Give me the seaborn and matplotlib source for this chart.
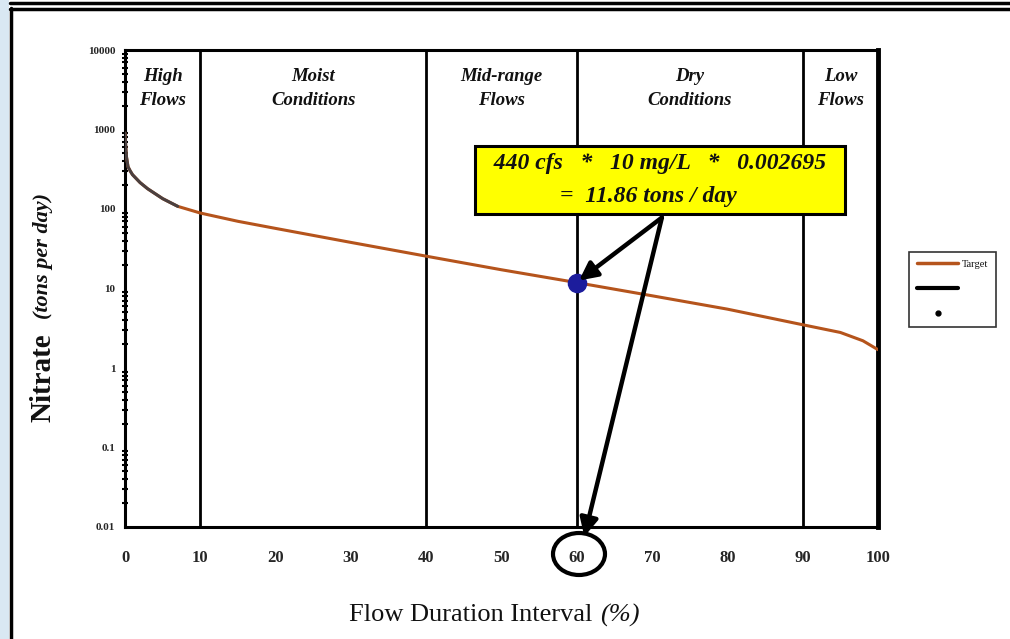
import numpy as np
import pandas as pd
import matplotlib
matplotlib.use("Agg")
import matplotlib.pyplot as plt
from matplotlib.lines import Line2D
from matplotlib.patches import Rectangle, Ellipse
import seaborn as sns

# Load duration curve: flow duration interval (%) vs nitrate target load (tons/day)
flow_pct = [0, 0.1, 0.2, 0.4, 0.7, 1, 2, 3, 5, 7, 10, 15, 20, 30, 40, 50, 60, 70, 80, 90, 95, 98, 100]
target_load = [900, 600, 450, 340, 300, 270, 215, 180, 135, 108, 89, 70, 57, 38, 25.5, 17.2, 11.86, 8.1, 5.5, 3.5, 2.8, 2.2, 1.7]

# Highest-flow portion drawn as the dark overlay series
obs_pct = [0, 0.1, 0.2, 0.4, 0.7, 1, 2, 3, 5, 7]
obs_load = [900, 600, 450, 340, 300, 270, 215, 180, 135, 108]

# Worked example point
example_pct = [60]
example_load = [11.86]

zone_bounds = [10, 40, 60, 90]
zone_names = ["High\nFlows", "Moist\nConditions", "Mid-range\nFlows", "Dry\nConditions", "Low\nFlows"]
zone_centers = [5, 25, 50, 75, 95]

x_ticks = [0, 10, 20, 30, 40, 50, 60, 70, 80, 90, 100]
y_ticks = [0.01, 0.1, 1, 10, 100, 1000, 10000]
y_tick_labels = ["0.01", "0.1", "1", "10", "100", "1000", "10000"]

sns.set_theme(style="white")
serif = ["Liberation Serif", "DejaVu Serif"]
plt.rcParams["font.family"] = serif
plt.rcParams["text.color"] = "#111111"

fig = plt.figure(figsize=(10.1, 6.39), dpi=100)
ax = fig.add_axes([125 / 1010, 1 - 527 / 639, 753 / 1010, 477 / 639])

# slide frame decoration
fig.patches.append(Rectangle((0, 0), 9 / 1010, 1, transform=fig.transFigure,
                             facecolor="#d9e8f3", edgecolor="none", zorder=0))
fig.add_artist(Line2D([10.5 / 1010, 10.5 / 1010], [0, 1 - 8 / 639], transform=fig.transFigure,
                      color="black", lw=2.5))
fig.add_artist(Line2D([10 / 1010, 1], [1 - 3 / 639, 1 - 3 / 639], transform=fig.transFigure,
                      color="black", lw=2.5))
fig.add_artist(Line2D([10 / 1010, 1], [1 - 9 / 639, 1 - 9 / 639], transform=fig.transFigure,
                      color="black", lw=2.5))

curve = pd.DataFrame({"pct": flow_pct, "load": target_load})
obs = pd.DataFrame({"pct": obs_pct, "load": obs_load})
pt = pd.DataFrame({"pct": example_pct, "load": example_load})

sns.lineplot(data=curve, x="pct", y="load", ax=ax, color="#b5541c", lw=2.2, zorder=3)
sns.lineplot(data=obs, x="pct", y="load", ax=ax, color="#4a4040", lw=2.2, zorder=4)
sns.scatterplot(data=pt, x="pct", y="load", ax=ax, color="#1c1c9c", s=170,
                edgecolor="#1c1c9c", zorder=6)

ax.set_yscale("log")
ax.set_xlim(0, 100)
ax.set_ylim(0.01, 10000)
ax.set_xlabel("")
ax.set_ylabel("")

for b in zone_bounds:
    ax.axvline(b, color="black", lw=2, zorder=2)

for c, name in zip(zone_centers, zone_names):
    ax.text(c, 5900, name, ha="center", va="top", fontsize=13.5, fontweight="bold",
            style="italic", linespacing=1.55, family=serif)

for side in ["left", "bottom", "top"]:
    ax.spines[side].set_color("black")
    ax.spines[side].set_linewidth(2.2)
ax.spines["right"].set_color("black")
ax.spines["right"].set_linewidth(3.5)

ax.set_xticks(x_ticks)
ax.set_xticklabels([str(t) for t in x_ticks], fontsize=12, fontweight="bold")
ax.set_yticks(y_ticks)
ax.set_yticklabels(y_tick_labels, fontsize=8, fontweight="bold")
ax.tick_params(axis="x", which="major", direction="inout", length=9, width=2, pad=12, color="black")
ax.tick_params(axis="y", which="major", direction="inout", length=8, width=2, pad=3, color="black")
ax.tick_params(axis="y", which="minor", direction="inout", length=4, width=1.5, left=True, color="black")
ax.yaxis.set_minor_locator(matplotlib.ticker.LogLocator(base=10, subs=np.arange(2, 10)))
ax.yaxis.set_minor_formatter(matplotlib.ticker.NullFormatter())

# calculation callout
ax.text(71.0, 232, "  440 cfs   *   10 mg/L   *   0.002695  \n=  11.86 tons / day    ",
        ha="center", va="center", fontsize=17, fontweight="bold", style="italic",
        linespacing=1.7, zorder=8,
        bbox=dict(boxstyle="square,pad=0.3", facecolor="#ffff00", edgecolor="black", lw=2.2))
arrow_style = dict(arrowstyle="-|>,head_length=0.9,head_width=0.45", color="black", lw=3.2,
                   shrinkA=0, shrinkB=0)
ax.annotate("", xy=(60.3, 12.6), xytext=(71.3, 78), arrowprops=arrow_style, zorder=7)
ax.annotate("", xy=(61.0, -0.02), xycoords=("data", "axes fraction"),
            xytext=(71.3, 78), textcoords="data", arrowprops=arrow_style,
            annotation_clip=False, zorder=7)
circ = Ellipse((579 / 1010, 1 - 554 / 639), 52 / 1010, 42 / 639, transform=fig.transFigure,
               facecolor="none", edgecolor="black", lw=3)
fig.patches.append(circ)

# axis titles with mixed styles
fig.text(43 / 1010, 1 - 378 / 639, "Nitrate", rotation=90, ha="center", va="center",
         fontsize=21, fontweight="bold", family=serif)
fig.text(43 / 1010, 1 - 256 / 639, "(tons per day)", rotation=90, ha="center", va="center",
         fontsize=16, fontweight="bold", style="italic", family=serif)
fig.text(471 / 1010, 1 - 615 / 639, "Flow Duration Interval", ha="center", va="center",
         fontsize=19, family=serif)
fig.text(620 / 1010, 1 - 615 / 639, "(%)", ha="center", va="center",
         fontsize=19, style="italic", family=serif)

handles = [Line2D([], [], color="#b5541c", lw=2.5),
           Line2D([], [], color="black", lw=3),
           Line2D([], [], color="black", marker="o", markersize=3.5, lw=0)]
leg = fig.legend(handles, ["Target", " ", " "], loc="upper left",
                 bbox_to_anchor=(909 / 1010, 1 - 252 / 639), fontsize=7.5,
                 frameon=True, fancybox=False, edgecolor="black", handlelength=4.0,
                 borderpad=0.75, labelspacing=1.5, handletextpad=0.3, borderaxespad=0)
leg.get_frame().set_linewidth(1.2)

fig.savefig("out.png", dpi=100, facecolor="white")
